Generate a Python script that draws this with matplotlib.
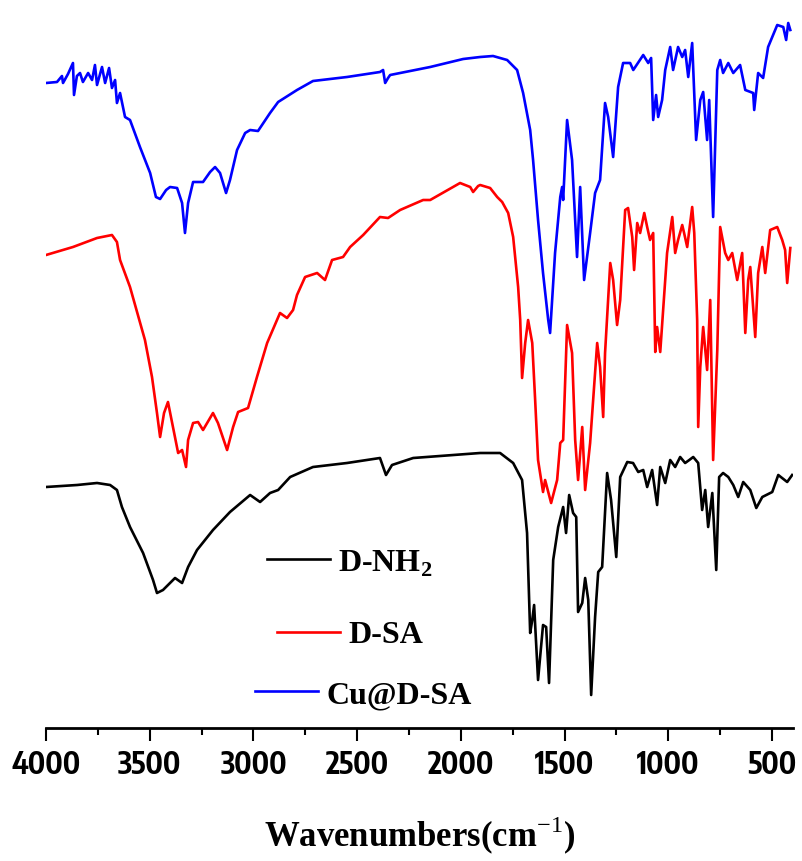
import matplotlib
matplotlib.use("Agg")
import matplotlib.pyplot as plt
from matplotlib.lines import Line2D
from matplotlib import font_manager

# ---------------- data (wavenumber cm^-1, offset transmittance a.u.) ----------------
wn_dnh2 = [4000, 3850, 3754, 3691, 3658, 3634, 3595, 3532, 3484, 3465, 3436, 3378, 3344,
           3315, 3272, 3195, 3113, 3016, 2968, 2920, 2881, 2823, 2713, 2549, 2390, 2361,
           2332, 2230, 1907, 1811, 1748, 1705, 1681, 1666, 1656, 1647, 1628, 1604, 1589,
           1575, 1555, 1531, 1507, 1493, 1478, 1459, 1444, 1435, 1415, 1401, 1386, 1372,
           1353, 1338, 1319, 1295, 1276, 1251, 1232, 1198, 1170, 1145, 1121, 1102, 1078,
           1054, 1039, 1015, 991, 967, 943, 919, 899, 880, 856, 837, 822, 808, 788, 769,
           755, 736, 711, 687, 663, 639, 605, 576, 547, 499, 470, 427, 403]
t_dnh2 = [241, 243, 245, 243, 238, 221, 201, 175, 148, 135, 138, 150, 145,
          161, 178, 198, 216, 233, 226, 235, 238, 251, 261, 265, 270, 253,
          263, 270, 275, 275, 265, 248, 195, 95, 108, 123, 48, 103, 101,
          45, 168, 201, 221, 195, 233, 215, 211, 116, 125, 150, 128, 33,
          111, 156, 161, 255, 228, 171, 251, 266, 265, 256, 258, 241, 258,
          223, 261, 245, 268, 261, 271, 265, 268, 271, 265, 218, 238, 201, 235, 158,
          251, 255, 251, 243, 231, 246, 238, 220, 231, 236, 253, 246, 253]

wn_dsa = [4000, 3870, 3754, 3682, 3658, 3643, 3595, 3523, 3489, 3465, 3450, 3431, 3412,
          3388, 3363, 3344, 3325, 3315, 3291, 3267, 3243, 3195, 3171, 3127, 3098, 3074,
          3026, 2983, 2934, 2872, 2838, 2809, 2790, 2751, 2693, 2655, 2621, 2568, 2534,
          2471, 2390, 2351, 2293, 2182, 2148, 2004, 1955, 1941, 1917, 1907, 1859, 1825,
          1801, 1772, 1748, 1724, 1714, 1705, 1690, 1676, 1656, 1642, 1628, 1604, 1594,
          1565, 1536, 1521, 1507, 1488, 1464, 1449, 1435, 1415, 1401, 1377, 1343, 1329,
          1314, 1305, 1290, 1280, 1266, 1247, 1232, 1208, 1194, 1174, 1165, 1150, 1136,
          1116, 1102, 1088, 1073, 1063, 1054, 1039, 1025, 1006, 981, 967, 953, 933, 924,
          909, 885, 875, 861, 856, 846, 832, 813, 798, 784, 764, 750, 726, 711, 692, 668,
          644, 629, 615, 605, 581, 567, 547, 533, 509, 475, 451, 437, 427, 412]
t_dsa = [473, 481, 490, 493, 486, 468, 441, 388, 351, 315, 291, 315, 326,
         301, 275, 278, 261, 288, 305, 306, 298, 315, 305, 278, 301, 316,
         320, 351, 385, 415, 410, 418, 433, 451, 455, 448, 468, 471, 481,
         493, 511, 510, 518, 528, 528, 545, 541, 536, 542, 543, 540, 531,
         526, 515, 491, 441, 408, 350, 385, 408, 385, 328, 268, 236, 248,
         225, 248, 285, 288, 403, 375, 288, 248, 301, 238, 285, 385, 361,
         311, 375, 428, 465, 448, 403, 428, 518, 520, 491, 458, 505, 495,
         515, 501, 488, 495, 376, 401, 376, 418, 475, 511, 475, 488, 503, 495,
         481, 521, 495, 408, 301, 361, 401, 358, 428, 268, 378, 501, 475, 468, 475, 448,
         475, 395, 448, 461, 391, 455, 481, 455, 498, 501, 488, 478, 445, 480]

wn_cudsa = [4000, 3947, 3923, 3918, 3894, 3870, 3865, 3851, 3836, 3822, 3797, 3778, 3764,
            3754, 3730, 3715, 3696, 3682, 3667, 3658, 3643, 3619, 3595, 3547, 3498, 3470,
            3450, 3421, 3402, 3368, 3344, 3330, 3315, 3291, 3243, 3209, 3185, 3161, 3132,
            3113, 3079, 3040, 3016, 2978, 2920, 2881, 2790, 2713, 2549, 2390, 2375, 2365,
            2351, 2341, 2148, 1989, 1907, 1845, 1777, 1729, 1700, 1666, 1652, 1628, 1604,
            1579, 1570, 1546, 1521, 1512, 1507, 1488, 1464, 1440, 1425, 1406, 1377, 1353,
            1329, 1305, 1290, 1266, 1242, 1218, 1184, 1169, 1121, 1097, 1083, 1073, 1059,
            1049, 1030, 1015, 991, 977, 953, 933, 919, 904, 885, 866, 846, 832, 813, 803,
            784, 764, 750, 736, 711, 687, 654, 629, 591, 586, 567, 543, 519, 475, 446, 432,
            422, 412]
t_cudsa = [645, 646, 652, 645, 654, 665, 633, 652, 655, 646, 655, 648, 663,
           643, 661, 645, 660, 640, 648, 625, 635, 611, 608, 581, 555, 531,
           529, 538, 541, 540, 525, 495, 525, 546, 546, 556, 561, 555, 535,
           548, 578, 595, 598, 597, 615, 626, 638, 647, 651, 656, 658, 645,
           650, 653, 661, 669, 671, 672, 668, 658, 635, 598, 568, 508, 455,
           408, 395, 475, 531, 541, 528, 608, 568, 471, 541, 448, 495, 535,
           548, 625, 611, 571, 641, 665, 665, 658, 673, 665, 670, 608, 633,
           611, 628, 658, 681, 658, 681, 671, 678, 651, 685, 588, 628, 636, 588, 628,
           511, 658, 668, 655, 665, 655, 663, 638, 635, 618, 655, 650, 681, 703, 701, 688,
           705, 698]

series = [
    (wn_dnh2, t_dnh2, "#000000", "D-NH$_{\\mathbf{2}}$"),
    (wn_dsa, t_dsa, "#ff0000", "D-SA"),
    (wn_cudsa, t_cudsa, "#0000ff", "Cu@D-SA"),
]
xticks = [4000, 3500, 3000, 2500, 2000, 1500, 1000, 500]
xtick_labels = ["4000", "3500", "3000", "2500", "2000", "1500", "1000", "500"]
minor_ticks = [3750, 3250, 2750, 2250, 1750, 1250, 750]

# ---------------- fonts ----------------
plt.rcParams["mathtext.fontset"] = "custom"
plt.rcParams["mathtext.rm"] = "Liberation Serif"
plt.rcParams["mathtext.bf"] = "Liberation Serif:bold"

tick_fp = None
for f in font_manager.fontManager.ttflist:
    n = f.name.lower()
    if ("narrow" in n or "condensed" in n) and ("sans" in n) and f.weight in ("bold", 700):
        tick_fp = font_manager.FontProperties(fname=f.fname, size=26)
        break
if tick_fp is None:
    tick_fp = font_manager.FontProperties(family="Liberation Sans", weight="bold", size=23.5)

# ---------------- figure ----------------
W, H = 803, 861
fig = plt.figure(figsize=(W / 100, H / 100), dpi=100)
ax = fig.add_axes([46 / W, (H - 728) / H, (793 - 46) / W, 718 / H])

for wn, t, c, lab in series:
    ax.plot(wn, t, color=c, lw=1.9, solid_joinstyle="round")

ax.set_xlim(4000, 399)
ax.set_ylim(0, 718)
for s in ["top", "left", "right"]:
    ax.spines[s].set_visible(False)
ax.spines["bottom"].set_linewidth(2.0)
ax.set_yticks([])
ax.set_xticks(xticks)
ax.set_xticks(minor_ticks, minor=True)
ax.set_xticklabels(xtick_labels)
for lbl in ax.get_xticklabels():
    lbl.set_fontproperties(tick_fp)
ax.tick_params(axis="x", which="major", length=9.5, width=1.5, direction="out", pad=6)
ax.tick_params(axis="x", which="minor", length=5, width=1.5, direction="out")

# fit tick-label size so that "4000" is about 69 px wide, as in the reference
fig.canvas.draw()
renderer = fig.canvas.get_renderer()
lbl0 = ax.get_xticklabels()[0]
w0 = lbl0.get_window_extent(renderer).width
if w0 > 0:
    new_size = tick_fp.get_size() * 69.0 / w0
    tick_fp.set_size(new_size)
    for lbl in ax.get_xticklabels():
        lbl.set_fontproperties(tick_fp)

fig.text(420 / W, 1 - 847 / H, "Wavenumbers(cm$^{\\mathrm{-1}}$)",
         family="Liberation Serif", weight="bold", size=25,
         ha="center", va="baseline")

# legend drawn as separate entries (as in the reference)
leg = [(267, 330, 559, 338, 572), (277, 340, 632, 348, 643), (255, 318, 691, 327, 703)]
for (wn, t, c, lab), (x0, x1, ly, tx, tb) in zip(series, leg):
    fig.add_artist(Line2D([x0 / W, x1 / W], [1 - ly / H, 1 - ly / H],
                          transform=fig.transFigure, color=c, lw=1.9))
    fig.text(tx / W, 1 - tb / H, lab, family="Liberation Serif", weight="bold",
             size=23, ha="left", va="baseline")

fig.savefig("out.png", dpi=100, facecolor="white")
